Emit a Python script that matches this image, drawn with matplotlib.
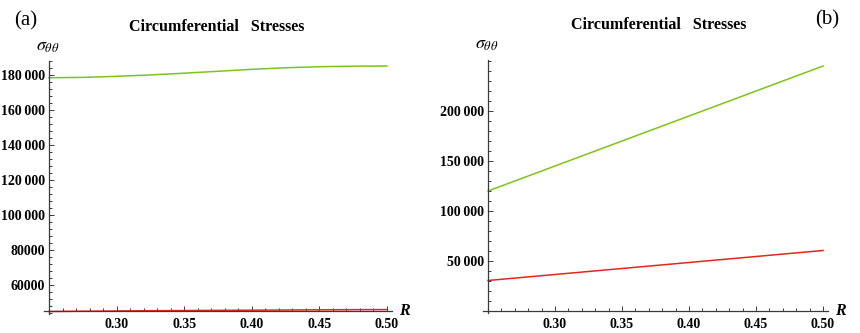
import numpy as np
import matplotlib
matplotlib.use("Agg")
from matplotlib import pyplot as plt
from matplotlib.ticker import FixedLocator, MultipleLocator, FixedFormatter

plt.rcParams['font.family'] = ['Liberation Serif', 'DejaVu Serif']
plt.rcParams['mathtext.fontset'] = 'stix'

# radius samples
R = [0.25, 0.275, 0.30, 0.325, 0.35, 0.375, 0.40, 0.425, 0.45, 0.475, 0.50]

# case (a)
green_a = [178700, 178900, 179500, 180300, 181300, 182400, 183500, 184400, 185000, 185300, 185400]
red_a = [44900, 45050, 45200, 45350, 45450, 45550, 45650, 45750, 45850, 45950, 46000]
yticks_a = [60000, 80000, 100000, 120000, 140000, 160000, 180000]
ylabels_a = ["60000", "80000", "100\u2009000", "120\u2009000", "140\u2009000", "160\u2009000", "180\u2009000"]

# case (b)
green_b = [120000, 132500, 145000, 157500, 170000, 182500, 195000, 207500, 220000, 232500, 245000]
red_b = [30500, 33500, 36500, 39500, 42500, 45500, 48500, 51500, 54500, 57500, 60500]
yticks_b = [50000, 100000, 150000, 200000]
ylabels_b = ["50\u2009000", "100\u2009000", "150\u2009000", "200\u2009000"]

xticks = [0.30, 0.35, 0.40, 0.45, 0.50]
xlabels = ["0.30", "0.35", "0.40", "0.45", "0.50"]

GREEN = "#7cc41a"
RED = "#e2281c"
AXC = "#3a3a3a"

fig = plt.figure(figsize=(8.6, 3.33), dpi=100)


def style_axes(ax, cross, ymin, ymax, yticks, ylabels, yminor):
    ax.set_xlim(0.2465, 0.5035)
    ax.set_ylim(ymin, ymax)
    for s in ["top", "right"]:
        ax.spines[s].set_visible(False)
    ax.spines["left"].set_position(("data", 0.25))
    ax.spines["bottom"].set_position(("data", cross))
    for s in ["left", "bottom"]:
        ax.spines[s].set_color(AXC)
        ax.spines[s].set_linewidth(0.9)
    ax.xaxis.set_major_locator(FixedLocator(xticks))
    ax.xaxis.set_major_formatter(FixedFormatter(xlabels))
    ax.xaxis.set_minor_locator(MultipleLocator(0.01))
    ax.yaxis.set_major_locator(FixedLocator(yticks))
    ax.yaxis.set_major_formatter(FixedFormatter(ylabels))
    ax.yaxis.set_minor_locator(MultipleLocator(yminor))
    ax.tick_params(which="both", direction="in", color=AXC, width=0.7)
    ax.tick_params(which="major", length=3.5)
    ax.tick_params(which="minor", length=2)
    ax.tick_params(axis="x", which="major", pad=5)
    ax.tick_params(axis="y", which="major", pad=3)
    for lab in ax.get_xticklabels() + ax.get_yticklabels():
        lab.set_fontweight("bold")
        lab.set_fontsize(10)
    ax.patch.set_visible(False)
    # axis name at the right end of the R axis
    ax.text(0.5035, cross, "  R", fontsize=11.5, fontweight="bold",
            fontstyle="italic", va="center", ha="left")


ax1 = fig.add_axes([0.0515, 0.0583, 0.404, 0.7597])
ax1.plot(R, green_a, color=GREEN, lw=1.1)
ax1.plot(R, red_a, color=RED, lw=1.1)
style_axes(ax1, 45200, 43700, 188500, yticks_a, ylabels_a, 4000)

ax2 = fig.add_axes([0.562, 0.0586, 0.4005, 0.7612])
ax2.plot(R, green_b, color=GREEN, lw=1.1)
ax2.plot(R, red_b, color=RED, lw=1.1)
style_axes(ax2, 0, -2500, 251000, yticks_b, ylabels_b, 10000)

fig.text(48 / 860, 1 - 46 / 333, r"$\sigma_{\theta\theta}$", fontsize=13, ha="center", va="center")
fig.text(487 / 860, 1 - 44 / 333, r"$\sigma_{\theta\theta}$", fontsize=13, ha="center", va="center")

fig.text(217 / 860, 1 - 27 / 333, "Circumferential   Stresses", fontsize=11.5,
         fontweight="bold", ha="center", va="center")
fig.text(659 / 860, 1 - 25 / 333, "Circumferential   Stresses", fontsize=11.5,
         fontweight="bold", ha="center", va="center")

fig.text(26 / 860, 1 - 21 / 333, "(a)", fontsize=15, ha="center", va="center")
fig.text(827 / 860, 1 - 20 / 333, "(b)", fontsize=15, ha="center", va="center")

fig.savefig("out.png", dpi=100)
